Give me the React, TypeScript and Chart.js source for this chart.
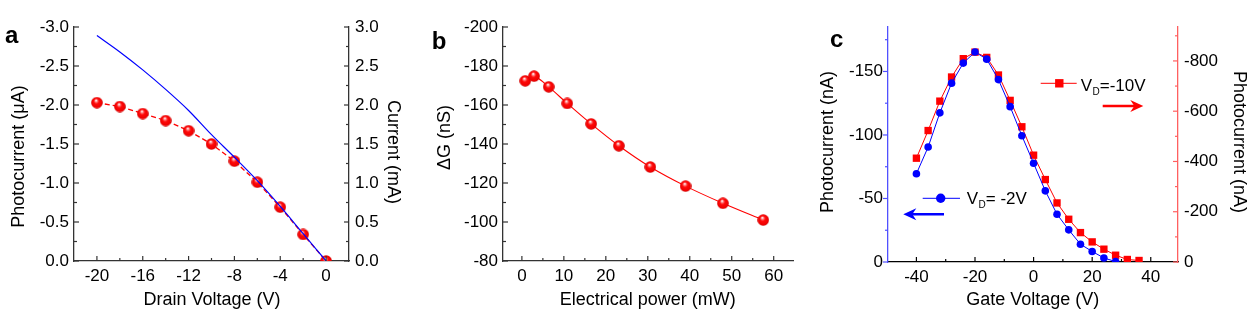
import React, { useEffect, useRef } from 'react';
import { Chart, registerables } from 'chart.js';

Chart.register(...registerables);

const FONT = "'Liberation Sans', Arial, Helvetica, sans-serif";

// ---------- Panel a ----------
const drainVoltage = [-20, -18, -16, -14, -12, -10, -8, -6, -4, -2, 0];
const photocurrentUA = [-2.03, -1.98, -1.89, -1.8, -1.67, -1.5, -1.28, -1.01, -0.69, -0.34, 0.0];
const drainCurrentMA = [2.89, 2.68, 2.45, 2.2, 1.93, 1.62, 1.33, 1.03, 0.7, 0.35, 0.0];
const aXTicks = [-20, -16, -12, -8, -4, 0];
const aXMinor = [-18, -14, -10, -6, -2];
const aYTicks = [-3, -2.5, -2, -1.5, -1, -0.5, 0];
const aYMinor = [-2.75, -2.25, -1.75, -1.25, -0.75, -0.25];
const aY2Ticks = [0, 0.5, 1, 1.5, 2, 2.5, 3];
const aY2Minor = [0.25, 0.75, 1.25, 1.75, 2.25, 2.75];

// ---------- Panel b ----------
const electricalPowerMW = [0.8, 2.9, 6.4, 10.8, 16.5, 23.1, 30.6, 39.0, 47.9, 57.5];
const deltaGnS = [-172.4, -174.8, -169.3, -160.8, -150.3, -139.1, -128.2, -118.4, -109.6, -101.0];
const bXTicks = [0, 10, 20, 30, 40, 50, 60];
const bXMinor = [5, 15, 25, 35, 45, 55];
const bYTicks = [-200, -180, -160, -140, -120, -100, -80];
const bYMinor = [-190, -170, -150, -130, -110, -90];

// ---------- Panel c ----------
const gateVoltage2V = [-40, -36, -32, -28, -24, -20, -16, -12, -8, -4, 0, 4, 8, 12, 16, 20, 24, 28];
const photocurrent2V = [-69.5, -90.5, -117.4, -140.8, -156.6, -165.3, -159.7, -143.6, -122.3, -99.4, -77.7, -56.0, -37.6, -25.3, -14.0, -8.3, -3.2, -0.3];
const gateVoltage10V = [-40, -36, -32, -28, -24, -20, -16, -12, -8, -4, 0, 4, 8, 12, 16, 20, 24, 28, 32, 36];
const photocurrent10V = [-413, -523, -640, -736, -809, -835, -814, -744, -643, -538, -425, -328, -235, -170, -117, -80, -51, -27, -10, -6];
const cXTicks = [-40, -20, 0, 20, 40];
const cXMinor = [-30, -10, 10, 30];
const cYTicks = [-150, -100, -50, 0];
const cYMinor = [-175, -125, -75, -25];
const cY2Ticks = [-800, -600, -400, -200, 0];
const cY2Minor = [-900, -700, -500, -300, -100];

const pts = (xs: number[], ys: number[]) => xs.map((x, i) => ({ x, y: ys[i] }));

type TickSpec = { axis: string; major: number[]; minor: number[]; out?: boolean; color: string };

function tickPlugin(specs: TickSpec[]) {
  return {
    id: 'tickMarks',
    afterDraw(chart: any) {
      const ctx = chart.ctx as CanvasRenderingContext2D;
      for (const s of specs) {
        const scale = chart.scales[s.axis];
        ctx.save();
        ctx.strokeStyle = s.color;
        ctx.lineWidth = 1.2;
        const mark = (v: number, len: number) => {
          const p = scale.getPixelForValue(v);
          ctx.beginPath();
          if (scale.isHorizontal()) {
            const y = scale.top;
            const dir = s.out ? 1 : -1;
            ctx.moveTo(p, y);
            ctx.lineTo(p, y + dir * len);
          } else {
            const isLeft = scale.position === 'left';
            const x = isLeft ? scale.right : scale.left;
            let dir = isLeft ? 1 : -1;
            if (s.out) dir = -dir;
            ctx.moveTo(x, p);
            ctx.lineTo(x + dir * len, p);
          }
          ctx.stroke();
        };
        s.major.forEach((v) => mark(v, 5));
        s.minor.forEach((v) => mark(v, 3));
        ctx.restore();
      }
    },
  };
}

type TitleSpec = { text: string; x: number; y: number; rot: number };

function textPlugin(letter: string, lx: number, ly: number, titles: TitleSpec[]) {
  return {
    id: 'panelText',
    afterDraw(chart: any) {
      const ctx = chart.ctx as CanvasRenderingContext2D;
      ctx.save();
      ctx.fillStyle = '#000';
      ctx.font = `bold 24px ${FONT}`;
      ctx.textBaseline = 'alphabetic';
      ctx.textAlign = 'left';
      ctx.fillText(letter, lx, ly);
      ctx.font = `18px ${FONT}`;
      ctx.textAlign = 'center';
      ctx.textBaseline = 'middle';
      for (const t of titles) {
        ctx.save();
        ctx.translate(t.x, t.y);
        ctx.rotate((t.rot * Math.PI) / 180);
        ctx.fillText(t.text, 0, 0);
        ctx.restore();
      }
      ctx.restore();
    },
  };
}

function arrow(ctx: CanvasRenderingContext2D, x1: number, x2: number, y: number, color: string) {
  const dir = x2 > x1 ? 1 : -1;
  ctx.save();
  ctx.strokeStyle = color;
  ctx.fillStyle = color;
  ctx.lineWidth = 2.6;
  ctx.beginPath();
  ctx.moveTo(x1, y);
  ctx.lineTo(x2 - dir * 8, y);
  ctx.stroke();
  ctx.beginPath();
  ctx.moveTo(x2, y);
  ctx.lineTo(x2 - dir * 13, y - 6);
  ctx.lineTo(x2 - dir * 9, y);
  ctx.lineTo(x2 - dir * 13, y + 6);
  ctx.closePath();
  ctx.fill();
  ctx.restore();
}

function subLabel(ctx: CanvasRenderingContext2D, x: number, y: number, rest: string) {
  ctx.save();
  ctx.fillStyle = '#000';
  ctx.textBaseline = 'alphabetic';
  ctx.textAlign = 'left';
  ctx.font = `17px ${FONT}`;
  ctx.fillText('V', x, y);
  let cx = x + ctx.measureText('V').width + 0.5;
  ctx.font = `10px ${FONT}`;
  ctx.fillText('D', cx, y + 3.5);
  cx += ctx.measureText('D').width;
  ctx.font = `17px ${FONT}`;
  ctx.fillText(rest, cx, y);
  ctx.restore();
}

const legendPluginC = {
  id: 'legendC',
  afterDraw(chart: any) {
    const ctx = chart.ctx as CanvasRenderingContext2D;
    ctx.save();
    ctx.strokeStyle = '#ff0000';
    ctx.lineWidth = 1;
    ctx.beginPath();
    ctx.moveTo(220.7, 83.3);
    ctx.lineTo(256.7, 83.3);
    ctx.stroke();
    ctx.fillStyle = '#ff0000';
    ctx.fillRect(239.3 - 4.2, 83.3 - 4.2, 8.4, 8.4);
    ctx.strokeStyle = '#0000ff';
    ctx.beginPath();
    ctx.moveTo(102.7, 198.3);
    ctx.lineTo(140, 198.3);
    ctx.stroke();
    ctx.fillStyle = '#0000ff';
    ctx.beginPath();
    ctx.arc(120.7, 198.3, 4.7, 0, Math.PI * 2);
    ctx.fill();
    ctx.restore();
    subLabel(ctx, 260.7, 91, '=-10V');
    subLabel(ctx, 146.7, 204, '= -2V');
    arrow(ctx, 282.7, 323.3, 106, '#ff0000');
    arrow(ctx, 124, 83.3, 214.3, '#0000ff');
  },
};

function axis(o: {
  position: string;
  min: number;
  max: number;
  reverse?: boolean;
  ticks: number[];
  fmt: (v: number) => string;
  size: number;
  color: string;
  labelPad: number;
}) {
  const horizontal = o.position === 'bottom';
  return {
    type: 'linear',
    position: o.position,
    min: o.min,
    max: o.max,
    reverse: !!o.reverse,
    afterBuildTicks: (s: any) => {
      s.ticks = o.ticks.map((v) => ({ value: v }));
    },
    afterFit: (s: any) => {
      if (horizontal) s.height = o.size;
      else s.width = o.size;
    },
    grid: { display: true, drawOnChartArea: false, drawTicks: false },
    border: { display: true, color: o.color, width: 1.3 },
    ticks: {
      autoSkip: false,
      maxRotation: 0,
      padding: o.labelPad,
      color: '#000',
      font: { size: 17, family: FONT },
      callback: (v: any) => o.fmt(Number(v)),
    },
    title: { display: false },
  };
}

const baseOptions = (scales: any, top = 27, right = 0) => ({
  responsive: false,
  animation: false,
  devicePixelRatio: 1,
  events: [],
  layout: { padding: { top, left: 0, right, bottom: 0 } },
  plugins: { legend: { display: false }, tooltip: { enabled: false } },
  scales,
});

function makeSphere(d: number): HTMLCanvasElement {
  const c = document.createElement('canvas');
  c.width = d;
  c.height = d;
  const ctx = c.getContext('2d')!;
  const r = d / 2;
  const g = ctx.createRadialGradient(r * 0.85, r * 0.6, r * 0.05, r, r, r);
  g.addColorStop(0, '#ffffff');
  g.addColorStop(0.18, '#ff8080');
  g.addColorStop(0.4, '#ff0a0a');
  g.addColorStop(0.85, '#ee0000');
  g.addColorStop(1, '#b80000');
  ctx.fillStyle = g;
  ctx.beginPath();
  ctx.arc(r, r, r - 0.2, 0, Math.PI * 2);
  ctx.fill();
  return c;
}

export default function App() {
  const refA = useRef<HTMLCanvasElement>(null);
  const refB = useRef<HTMLCanvasElement>(null);
  const refC = useRef<HTMLCanvasElement>(null);

  useEffect(() => {
    const sphere = makeSphere(12);
    const AX = '#333333';

    const chartA = new Chart(refA.current!, {
      type: 'line',
      data: {
        datasets: [
          {
            data: pts(drainVoltage, drainCurrentMA),
            yAxisID: 'y2',
            borderColor: '#0000ff',
            borderWidth: 1.2,
            pointRadius: 0,
            cubicInterpolationMode: 'monotone',
          } as any,
          {
            data: pts(drainVoltage, photocurrentUA),
            yAxisID: 'y',
            borderColor: '#ff0000',
            borderWidth: 1.3,
            borderDash: [5, 3],
            pointStyle: sphere,
            pointRadius: 6,
          } as any,
        ],
      },
      options: baseOptions({
        x: axis({ position: 'bottom', min: -22, max: 2, ticks: aXTicks, fmt: (v) => String(v), size: 56, color: AX, labelPad: 5 }),
        y: axis({ position: 'left', min: -3, max: 0, reverse: true, ticks: aYTicks, fmt: (v) => v.toFixed(1), size: 74, color: AX, labelPad: 5 }),
        y2: axis({ position: 'right', min: 0, max: 3, ticks: aY2Ticks, fmt: (v) => v.toFixed(1), size: 61, color: AX, labelPad: 6 }),
      }) as any,
      plugins: [
        tickPlugin([
          { axis: 'x', major: aXTicks, minor: aXMinor, color: AX },
          { axis: 'y', major: aYTicks, minor: aYMinor, color: AX },
          { axis: 'y2', major: aY2Ticks, minor: aY2Minor, color: AX },
        ]),
        textPlugin('a', 5, 43, [
          { text: 'Drain Voltage (V)', x: 212, y: 300, rot: 0 },
          { text: 'Photocurrent (\u03bcA)', x: 19.5, y: 156.5, rot: -90 },
          { text: 'Current (mA)', x: 393.3, y: 152, rot: 90 },
        ]),
      ],
    });

    const chartB = new Chart(refB.current!, {
      type: 'line',
      data: {
        datasets: [
          {
            data: pts(electricalPowerMW, deltaGnS),
            borderColor: '#ff0000',
            borderWidth: 1.1,
            pointStyle: sphere,
            pointRadius: 6,
            tension: 0.3,
          } as any,
        ],
      },
      options: baseOptions(
        {
          x: axis({ position: 'bottom', min: -4.5, max: 64.6, ticks: bXTicks, fmt: (v) => String(v), size: 56, color: AX, labelPad: 5 }),
          y: axis({ position: 'left', min: -200, max: -80, reverse: true, ticks: bYTicks, fmt: (v) => String(v), size: 93, color: AX, labelPad: 5 }),
        },
        27,
        27
      ) as any,
      plugins: [
        tickPlugin([
          { axis: 'x', major: bXTicks, minor: bXMinor, color: AX },
          { axis: 'y', major: bYTicks, minor: bYMinor, color: AX },
        ]),
        textPlugin('b', 21.7, 49.3, [
          { text: 'Electrical power (mW)', x: 237.7, y: 300, rot: 0 },
          { text: '\u0394G (nS)', x: 35, y: 137.5, rot: -90 },
        ]),
      ],
    });

    const BLUE_AX = '#5050ff';
    const RED_AX = '#ff6060';
    const chartC = new Chart(refC.current!, {
      type: 'line',
      data: {
        datasets: [
          {
            data: pts(gateVoltage2V, photocurrent2V),
            yAxisID: 'y',
            borderColor: '#0000ff',
            backgroundColor: '#0000ff',
            borderWidth: 1,
            pointStyle: 'circle',
            pointRadius: 3.8,
            pointBorderWidth: 0,
          } as any,
          {
            data: pts(gateVoltage10V, photocurrent10V),
            yAxisID: 'y2',
            borderColor: '#ff0000',
            backgroundColor: '#ff0000',
            borderWidth: 1,
            pointStyle: 'rect',
            pointRadius: 5.2,
            pointBorderWidth: 0,
          } as any,
        ],
      },
      options: baseOptions({
        x: axis({ position: 'bottom', min: -49.7, max: 49.3, ticks: cXTicks, fmt: (v) => String(v), size: 55, color: '#000', labelPad: 5 }),
        y: axis({ position: 'left', min: -185, max: 0, reverse: true, ticks: cYTicks, fmt: (v) => String(v), size: 68, color: BLUE_AX, labelPad: 5 }),
        y2: axis({ position: 'right', min: -935, max: 0, reverse: true, ticks: cY2Ticks, fmt: (v) => String(v), size: 74, color: RED_AX, labelPad: 6 }),
      }) as any,
      plugins: [
        tickPlugin([
          { axis: 'x', major: cXTicks, minor: cXMinor, color: '#000' },
          { axis: 'y', major: cYTicks, minor: cYMinor, color: BLUE_AX, out: true },
          { axis: 'y2', major: cY2Ticks, minor: cY2Minor, color: RED_AX },
        ]),
        textPlugin('c', 10, 47, [
          { text: 'Gate Voltage (V)', x: 212.8, y: 300, rot: 0 },
          { text: 'Photocurrent (nA)', x: 8.5, y: 142, rot: -90 },
          { text: 'Photocurrent (nA)', x: 419.2, y: 142, rot: 90 },
        ]),
        legendPluginC,
      ],
    });

    return () => {
      chartA.destroy();
      chartB.destroy();
      chartC.destroy();
    };
  }, []);

  return (
    <div style={{ position: 'absolute', left: 0, top: 0, width: 1252, height: 317, background: '#fff' }}>
      <canvas ref={refA} width={410} height={317} style={{ position: 'absolute', left: 0, top: 0 }} />
      <canvas ref={refB} width={410} height={317} style={{ position: 'absolute', left: 410, top: 0 }} />
      <canvas ref={refC} width={432} height={317} style={{ position: 'absolute', left: 820, top: 0 }} />
    </div>
  );
}
